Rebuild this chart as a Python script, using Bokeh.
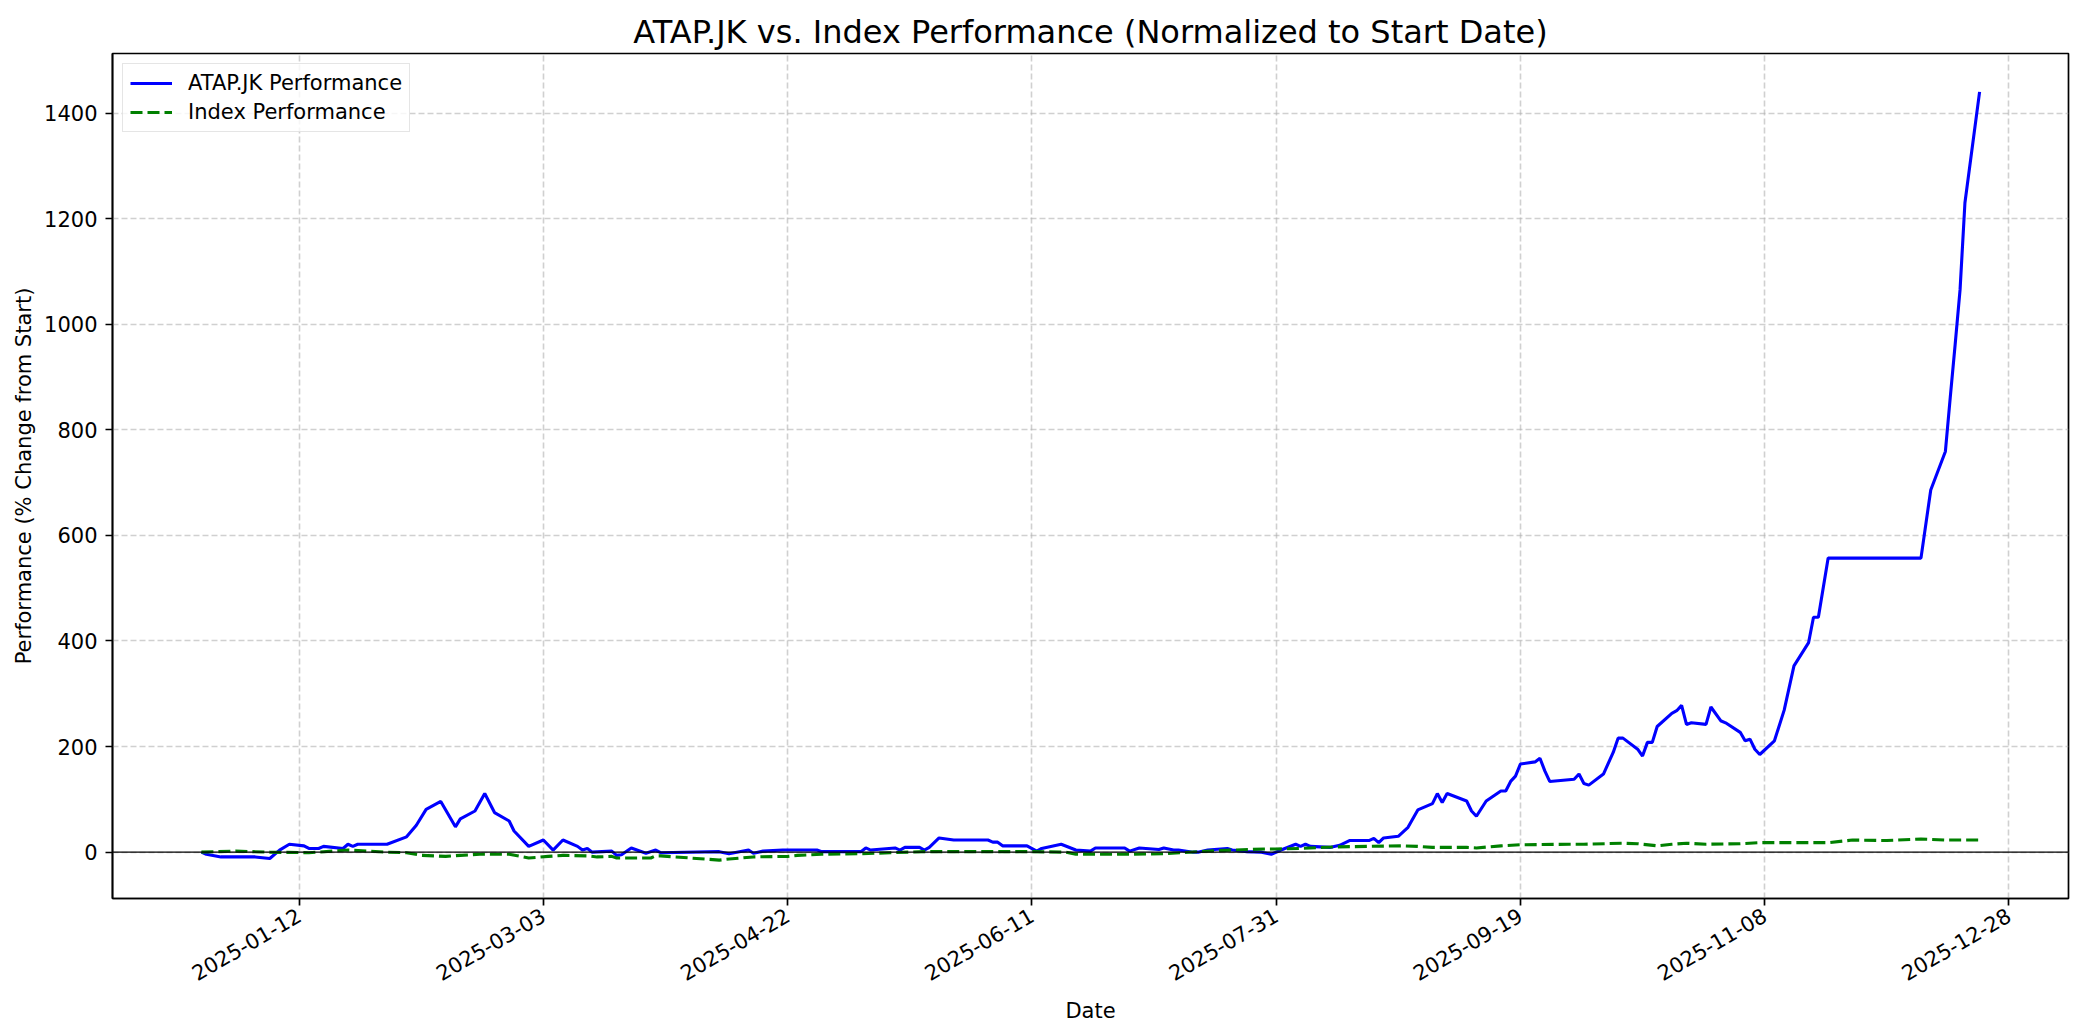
import pandas as pd
from bokeh.plotting import figure
from bokeh.models import (Range1d, FixedTicker, DatetimeTickFormatter, Span,
                          Legend, LegendItem, ColumnDataSource)
from bokeh.embed import file_html
from bokeh.resources import INLINE

# ---------------- data ----------------
atap_dates = [
    "2024-12-23", "2024-12-24", "2024-12-27", "2025-01-03", "2025-01-06", "2025-01-08",
    "2025-01-10", "2025-01-13", "2025-01-14", "2025-01-16", "2025-01-17", "2025-01-21",
    "2025-01-22", "2025-01-23", "2025-01-24", "2025-01-30", "2025-02-03", "2025-02-05",
    "2025-02-07", "2025-02-10", "2025-02-13", "2025-02-14", "2025-02-17", "2025-02-19",
    "2025-02-21", "2025-02-24", "2025-02-25", "2025-02-28", "2025-03-03", "2025-03-05",
    "2025-03-07", "2025-03-10", "2025-03-11", "2025-03-12", "2025-03-13", "2025-03-17",
    "2025-03-18", "2025-03-19", "2025-03-21", "2025-03-24", "2025-03-26", "2025-03-27",
    "2025-04-08", "2025-04-10", "2025-04-14", "2025-04-15", "2025-04-17", "2025-04-21",
    "2025-04-28", "2025-04-29", "2025-05-07", "2025-05-08", "2025-05-09", "2025-05-14",
    "2025-05-15", "2025-05-16", "2025-05-19", "2025-05-20", "2025-05-21", "2025-05-23",
    "2025-05-26", "2025-06-02", "2025-06-03", "2025-06-04", "2025-06-05", "2025-06-10",
    "2025-06-12", "2025-06-13", "2025-06-17", "2025-06-20", "2025-06-23", "2025-06-24",
    "2025-06-30", "2025-07-01", "2025-07-03", "2025-07-07", "2025-07-08", "2025-07-10",
    "2025-07-11", "2025-07-14", "2025-07-15", "2025-07-17", "2025-07-21", "2025-07-22",
    "2025-07-25", "2025-07-28", "2025-07-30", "2025-08-01", "2025-08-04", "2025-08-05",
    "2025-08-06", "2025-08-07", "2025-08-11", "2025-08-13", "2025-08-15", "2025-08-19",
    "2025-08-20", "2025-08-21", "2025-08-22", "2025-08-25", "2025-08-27", "2025-08-29",
    "2025-09-01", "2025-09-02", "2025-09-03", "2025-09-04", "2025-09-08", "2025-09-09",
    "2025-09-10", "2025-09-12", "2025-09-15", "2025-09-16", "2025-09-17", "2025-09-18",
    "2025-09-19", "2025-09-22", "2025-09-23", "2025-09-24", "2025-09-25", "2025-09-30",
    "2025-10-01", "2025-10-02", "2025-10-03", "2025-10-06", "2025-10-08", "2025-10-09",
    "2025-10-10", "2025-10-13", "2025-10-14", "2025-10-15", "2025-10-16", "2025-10-17",
    "2025-10-20", "2025-10-21", "2025-10-22", "2025-10-23", "2025-10-24", "2025-10-27",
    "2025-10-28", "2025-10-30", "2025-10-31", "2025-11-03", "2025-11-04", "2025-11-05",
    "2025-11-06", "2025-11-07", "2025-11-10", "2025-11-12", "2025-11-14", "2025-11-17",
    "2025-11-18", "2025-11-19", "2025-11-21", "2025-12-10", "2025-12-12", "2025-12-15",
    "2025-12-16", "2025-12-17", "2025-12-18", "2025-12-19", "2025-12-22",
]
atap_values = [
    0, -4, -9, -9, -12, 4,
    15, 12, 7, 7, 11, 7,
    15, 11, 15, 15, 29, 51,
    81, 96, 48, 63, 78, 111,
    75, 59, 40, 11, 23, 4,
    23, 11, 4, 7, 0, 2,
    -6, -5, 8, -2, 4, -1,
    1, -3, 4, -2, 2, 4,
    4, 1, 1, 8, 4, 8,
    4, 9, 9, 4, 9, 27,
    23, 23, 19, 19, 12, 12,
    2, 7, 15, 4, 2, 8,
    8, 2, 8, 5, 8, 4,
    4, 0, 0, 4, 7, 4,
    1, 0, -4, 4, 15, 11,
    15, 11, 9, 13, 22, 22,
    26, 18, 27, 30, 47, 80,
    92, 111, 94, 111, 97, 78,
    68, 97, 116, 116, 134, 144,
    167, 171, 178, 154, 134, 138,
    148, 130, 127, 148, 189, 216,
    216, 195, 182, 208, 208, 238,
    263, 268, 278, 242, 245, 242,
    275, 249, 245, 227, 211, 214,
    195, 185, 211, 269, 353, 397,
    445, 445, 557, 557, 686, 759,
    862, 962, 1065, 1230, 1440,
]

index_dates = [
    "2024-12-23", "2024-12-30", "2025-01-06", "2025-01-14", "2025-01-22", "2025-01-30",
    "2025-02-03", "2025-02-06", "2025-02-11", "2025-02-14", "2025-02-18", "2025-02-24",
    "2025-02-28", "2025-03-04", "2025-03-07", "2025-03-12", "2025-03-14", "2025-03-17",
    "2025-03-18", "2025-03-25", "2025-03-26", "2025-03-27", "2025-04-08", "2025-04-10",
    "2025-04-15", "2025-04-22", "2025-04-24", "2025-04-29", "2025-05-07", "2025-05-13",
    "2025-05-20", "2025-05-27", "2025-06-03", "2025-06-11", "2025-06-18", "2025-06-20",
    "2025-06-24", "2025-07-01", "2025-07-08", "2025-07-15", "2025-07-22", "2025-07-29",
    "2025-07-31", "2025-08-05", "2025-08-12", "2025-08-19", "2025-08-26", "2025-08-29",
    "2025-09-01", "2025-09-08", "2025-09-10", "2025-09-15", "2025-09-19", "2025-09-29",
    "2025-10-02", "2025-10-10", "2025-10-13", "2025-10-17", "2025-10-20", "2025-10-23",
    "2025-10-27", "2025-11-03", "2025-11-07", "2025-11-11", "2025-11-21", "2025-11-26",
    "2025-12-03", "2025-12-10", "2025-12-15", "2025-12-22",
]
index_values = [
    0, 2, 0, -1, 4, 0,
    -1, -6, -8, -6, -4, -4,
    -11, -8, -6, -7, -9, -8,
    -11, -11, -7, -7, -15, -13,
    -9, -8, -6, -4, -3, -1,
    1, 1, 1, 1, 0, -4,
    -4, -4, -3, 1, 4, 6,
    6, 7, 10, 11, 12, 11,
    9, 9, 8, 12, 14, 15,
    15, 17, 16, 12, 15, 17,
    15, 16, 18, 18, 18, 23,
    22, 25, 23, 23,
]

x_tick_labels = ["2025-01-12", "2025-03-03", "2025-04-22", "2025-06-11",
                 "2025-07-31", "2025-09-19", "2025-11-08", "2025-12-28"]
y_tick_values = [0, 200, 400, 600, 800, 1000, 1200, 1400]

TITLE = "ATAP.JK vs. Index Performance (Normalized to Start Date)"
FONT = "DejaVu Sans"

# ---------------- build ----------------
a_src = ColumnDataSource(dict(x=pd.to_datetime(atap_dates), y=atap_values))
i_src = ColumnDataSource(dict(x=pd.to_datetime(index_dates), y=index_values))

all_x = list(pd.to_datetime(atap_dates)) + list(pd.to_datetime(index_dates))
x0, x1 = min(all_x), max(all_x)
xpad = (x1 - x0) * 0.05
all_y = atap_values + index_values
y0, y1 = min(all_y), max(all_y)
ypad = (y1 - y0) * 0.05

p = figure(width=2076, height=1027, x_axis_type="datetime",
           x_range=Range1d(x0 - xpad, x1 + xpad),
           y_range=Range1d(y0 - ypad, y1 + ypad),
           output_backend="svg", toolbar_location=None,
           min_border_left=112, min_border_right=8,
           min_border_top=53, min_border_bottom=129)

p.background_fill_color = "white"
p.border_fill_color = "white"
p.outline_line_color = "black"
p.outline_line_width = 1.7

p.title.text = TITLE
p.title.align = "center"
p.title.text_font = FONT
p.title.text_font_size = "32px"
p.title.text_font_style = "normal"
p.title.text_color = "black"
p.title.standoff = 5

xt = FixedTicker(ticks=[pd.Timestamp(d).value / 1e6 for d in x_tick_labels])
p.xaxis.ticker = xt
p.xgrid.ticker = xt
fmt = "%Y-%m-%d"
p.xaxis.formatter = DatetimeTickFormatter(
    milliseconds=fmt, seconds=fmt, minsec=fmt, minutes=fmt, hourmin=fmt,
    hours=fmt, days=fmt, months=fmt, years=fmt)
p.xaxis.major_label_orientation = 0.5236

yt = FixedTicker(ticks=y_tick_values)
p.yaxis.ticker = yt
p.ygrid.ticker = yt

for ax in (p.xaxis[0], p.yaxis[0]):
    ax.axis_line_color = "black"
    ax.axis_line_width = 1.7
    ax.major_tick_line_color = "black"
    ax.major_tick_line_width = 1.7
    ax.major_tick_out = 7
    ax.major_tick_in = 0
    ax.minor_tick_line_color = None
    ax.major_label_text_font = FONT
    ax.major_label_text_font_size = "21px"
    ax.major_label_text_color = "black"
    ax.major_label_standoff = 8
    ax.axis_label_text_font = FONT
    ax.axis_label_text_font_size = "21px"
    ax.axis_label_text_font_style = "normal"
    ax.axis_label_text_color = "black"
    ax.axis_label_standoff = 8

p.yaxis.axis_label_standoff = 5
p.xaxis.axis_label = "Date"
p.yaxis.axis_label = "Performance (% Change from Start)"

for g in (p.xgrid[0], p.ygrid[0]):
    g.grid_line_color = "#b0b0b0"
    g.grid_line_alpha = 0.6
    g.grid_line_dash = "6 3"
    g.grid_line_width = 1.6

zero = Span(location=0, dimension="width", line_color="black", line_width=1.3)
p.add_layout(zero)

r1 = p.line("x", "y", source=a_src, line_color="#0000ff", line_width=3.1)
r2 = p.line("x", "y", source=i_src, line_color="#008000", line_width=3.1,
            line_dash="12 5")

legend = Legend(items=[LegendItem(label="ATAP.JK Performance", renderers=[r1]),
                       LegendItem(label="Index Performance", renderers=[r2])],
                location="top_left")
legend.margin = 10
legend.padding = 7
legend.spacing = 5
legend.label_height = 22
legend.glyph_height = 22
legend.glyph_width = 42
legend.label_standoff = 16
legend.label_text_font = FONT
legend.label_text_font_size = "21px"
legend.label_text_color = "black"
legend.border_line_color = "#cccccc"
legend.border_line_width = 1.6
legend.background_fill_alpha = 0.8
p.add_layout(legend)

open("out.html", "w").write(file_html(p, INLINE))
